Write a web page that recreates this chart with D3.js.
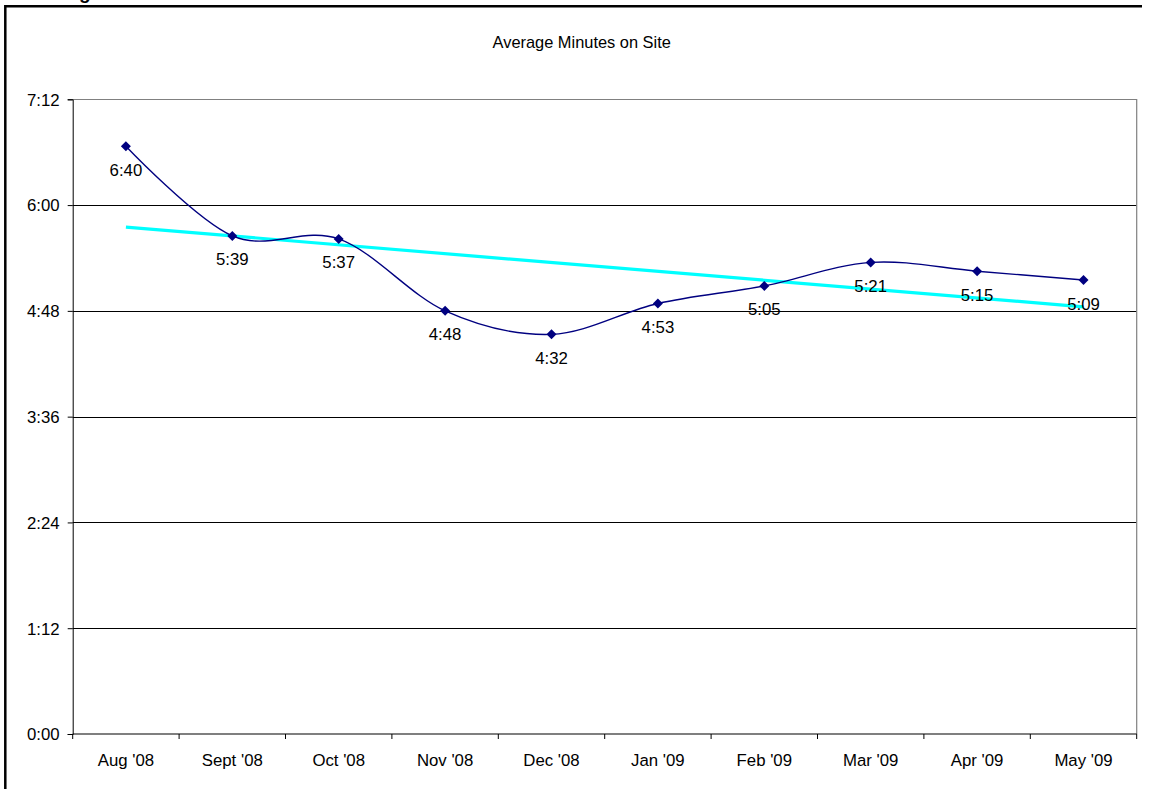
<!DOCTYPE html>
<html>
<head>
<meta charset="utf-8">
<script src="https://cdn.jsdelivr.net/npm/d3@7"></script>
<style>
  html, body { margin: 0; padding: 0; background: #fff; }
  svg { display: block; font-family: Arial, "Liberation Sans", sans-serif; }
</style>
</head>
<body>
<svg id="chart" width="1151" height="789"></svg>
<script>
// Monthly average time on site, in seconds
const months = ["Aug '08", "Sept '08", "Oct '08", "Nov '08", "Dec '08", "Jan '09", "Feb '09", "Mar '09", "Apr '09", "May '09"];
const avgSeconds = [400, 339, 337, 288, 272, 293, 305, 321, 315, 309];
const yTickSeconds = [0, 72, 144, 216, 288, 360, 432];
const chartTitle = "Average Minutes on Site";

const fmt = s => Math.floor(s / 60) + ":" + String(Math.round(s % 60)).padStart(2, "0");

const svg = d3.select("#chart");
const plot = { left: 72.7, right: 1136.7, top: 99.3, bottom: 734 };
const fontSize = 16.8;

const x = d3.scaleBand().domain(months).range([plot.left, plot.right]).padding(0);
const y = d3.scaleLinear().domain([0, 432]).range([plot.bottom, plot.top]);
const cx = m => x(m) + x.bandwidth() / 2;

// outer frame (left and top edges)
svg.append("path")
  .attr("d", `M5.3,789 L5.3,6.2 L1142,6.2`)
  .attr("fill", "none").attr("stroke", "#000").attr("stroke-width", 2.5);

// bold heading above the frame, mostly outside the page
svg.append("text")
  .attr("x", 79).attr("y", -1)
  .attr("font-size", 19).attr("font-weight", "bold")
  .text("g");

// title
svg.append("text")
  .attr("x", (plot.left + plot.right) / 2 - 23).attr("y", 47.5)
  .attr("text-anchor", "middle").attr("font-size", 16.4).attr("fill", "#000")
  .text(chartTitle);

// horizontal gridlines
svg.append("g").selectAll("line")
  .data(yTickSeconds.filter(d => d > 0 && d < 432))
  .join("line")
  .attr("x1", plot.left).attr("x2", plot.right)
  .attr("y1", d => Math.round(y(d)) + 0.5).attr("y2", d => Math.round(y(d)) + 0.5)
  .attr("stroke", "#000").attr("stroke-width", 1);

// plot area border (top and right)
svg.append("path")
  .attr("d", `M${plot.left},${Math.round(plot.top) + 0.5} L${plot.right},${Math.round(plot.top) + 0.5} L${plot.right},${plot.bottom}`)
  .attr("fill", "none").attr("stroke", "#808080").attr("stroke-width", 1.2);

// y axis
const yAxis = d3.axisLeft(y).tickValues(yTickSeconds).tickFormat(fmt).tickSize(5).tickPadding(8);
const gy = svg.append("g").attr("transform", `translate(${plot.left},0)`).call(yAxis);
gy.select(".domain").attr("stroke", "#000");
gy.selectAll(".tick line").attr("stroke", "#000");
gy.selectAll(".tick text").attr("font-size", fontSize).attr("fill", "#000")
  .attr("font-family", "Arial, 'Liberation Sans', sans-serif").attr("dy", "0.35em");

// x axis with ticks at category boundaries
const gx = svg.append("g").attr("transform", `translate(0,${plot.bottom})`);
gx.append("line").attr("x1", plot.left).attr("x2", plot.right).attr("y1", 0).attr("y2", 0)
  .attr("stroke", "#000").attr("stroke-width", 1.2);
const boundaries = months.map(m => x(m)).concat([plot.right]);
gx.selectAll("line.tk").data(boundaries).join("line").attr("class", "tk")
  .attr("x1", d => d).attr("x2", d => d).attr("y1", 0).attr("y2", 5)
  .attr("stroke", "#000");
gx.selectAll("text").data(months).join("text")
  .attr("x", d => cx(d)).attr("y", 32)
  .attr("text-anchor", "middle").attr("font-size", fontSize).attr("fill", "#000")
  .text(d => d);

// linear trend (least squares over category index)
const n = avgSeconds.length;
const idx = d3.range(n);
const mx = d3.mean(idx), my = d3.mean(avgSeconds);
const slope = d3.sum(idx, i => (i - mx) * (avgSeconds[i] - my)) / d3.sum(idx, i => (i - mx) ** 2);
const intercept = my - slope * mx;
svg.append("line")
  .attr("x1", cx(months[0])).attr("y1", y(intercept))
  .attr("x2", cx(months[n - 1])).attr("y2", y(intercept + slope * (n - 1)))
  .attr("stroke", "#00FFFF").attr("stroke-width", 3.2);

// smoothed series line
const pts = months.map((m, i) => [cx(m), y(avgSeconds[i])]);
svg.append("path")
  .attr("d", d3.line().curve(d3.curveCardinal.tension(0))(pts))
  .attr("fill", "none").attr("stroke", "#000080").attr("stroke-width", 1.4);

// diamond markers
svg.append("g").selectAll("path")
  .data(pts).join("path")
  .attr("d", d => `M${d[0]},${d[1] - 5} L${d[0] + 5},${d[1]} L${d[0]},${d[1] + 5} L${d[0] - 5},${d[1]} Z`)
  .attr("fill", "#000080");

// value labels
svg.append("g").selectAll("text")
  .data(avgSeconds).join("text")
  .attr("x", (d, i) => cx(months[i])).attr("y", d => y(d) + 29.5)
  .attr("text-anchor", "middle").attr("font-size", fontSize).attr("fill", "#000")
  .text(d => fmt(d));
</script>
</body>
</html>
